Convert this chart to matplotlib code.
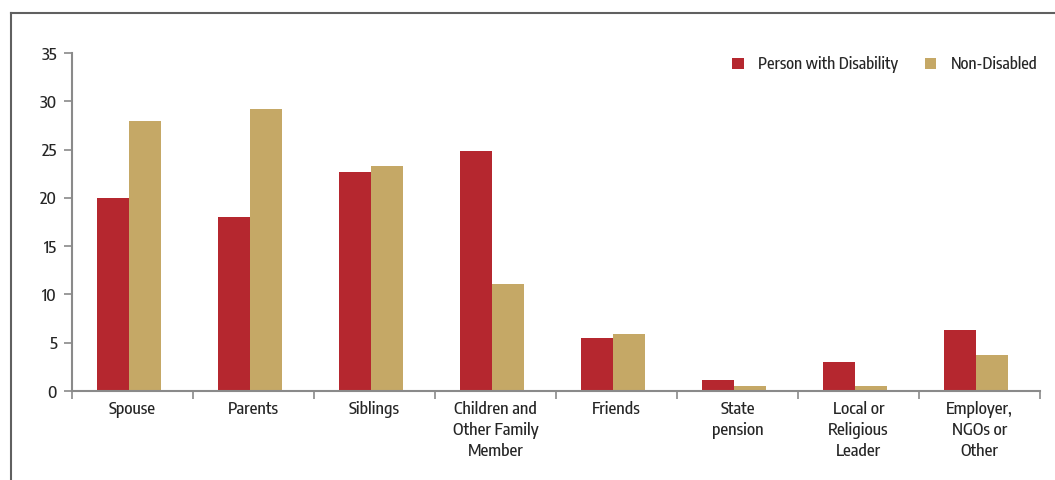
import matplotlib
matplotlib.use("Agg")
import matplotlib.pyplot as plt
from matplotlib.lines import Line2D
import numpy as np

categories = ["Spouse", "Parents", "Siblings", "Children and\nOther Family\nMember",
              "Friends", "State\npension", "Local or\nReligious\nLeader", "Employer,\nNGOs or\nOther"]
disabled = [20.0, 18.0, 22.7, 24.9, 5.5, 1.1, 3.0, 6.3]
non_disabled = [28.0, 29.2, 23.3, 11.1, 5.9, 0.5, 0.5, 3.7]
series_names = ["Person with Disability", "Non-Disabled"]
yticks = [0, 5, 10, 15, 20, 25, 30, 35]

plt.rcParams['font.family'] = ["Encode Sans Condensed", "Archivo Narrow", "DejaVu Sans"]
plt.rcParams['font.weight'] = 500

RED = "#B5272F"
TAN = "#C5A866"
TXT = "#262626"
AX = "#8a8a8a"
FS = 12.2

fig = plt.figure(figsize=(10.55, 4.8), dpi=100)
ax = fig.add_axes([72/1055, 1-391/480, (1040-72)/1055, (391-53)/480])

x = np.arange(len(categories))
w = 0.265
off = -0.03
ax.bar(x - w/2 + off, disabled, w, color=RED, label=series_names[0])
ax.bar(x + w/2 + off, non_disabled, w, color=TAN, label=series_names[1])

ax.set_xlim(-0.5, len(categories) - 0.5)
ax.set_ylim(0, 35)
ax.set_yticks(yticks)
ax.set_xticks(x)
ax.set_xticklabels(categories, fontsize=FS, color=TXT, linespacing=1.3)
ax.tick_params(axis='x', length=0, pad=7)
ax.set_xticks(np.arange(len(categories) + 1) - 0.5, minor=True)
ax.tick_params(axis='x', which='minor', length=6, color=AX, width=1.2)
ax.tick_params(axis='y', labelsize=FS, labelcolor=TXT, length=6, color=AX, width=1.2, pad=5)

for s in ['top', 'right']:
    ax.spines[s].set_visible(False)
for s in ['left', 'bottom']:
    ax.spines[s].set_color(AX)
    ax.spines[s].set_linewidth(1.5)

leg = ax.legend(loc='upper right', bbox_to_anchor=(1.004, 1.01), ncol=2, frameon=False,
                fontsize=11.7, handlelength=0.7, handleheight=0.7, handletextpad=0.9,
                columnspacing=1.6, labelcolor=TXT, borderaxespad=0.0)

# figure frame lines
fig.add_artist(Line2D([11/1055, 11/1055], [0, 1-13/480], transform=fig.transFigure,
                      color="#606060", lw=1.5))
fig.add_artist(Line2D([11/1055, 1], [1-13/480, 1-13/480], transform=fig.transFigure,
                      color="#606060", lw=1.5))

fig.savefig("out.png", dpi=100)
